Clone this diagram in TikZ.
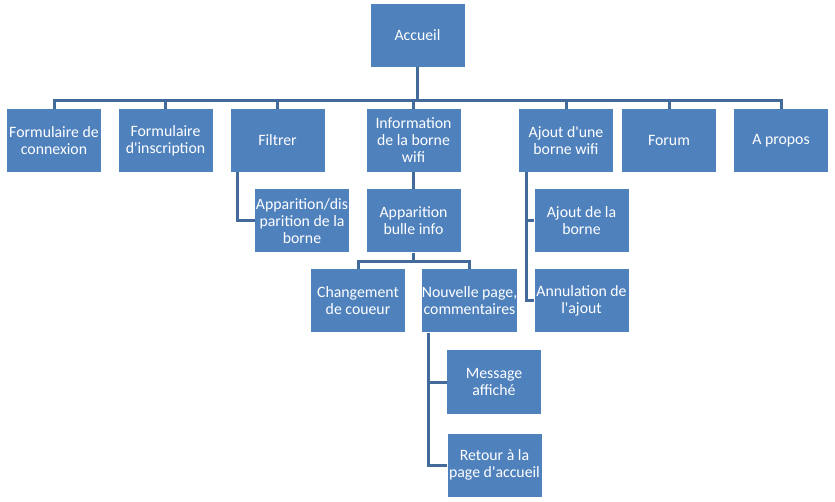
\documentclass[tikz,border=0pt]{standalone}
\usepackage{fontspec}
\setmainfont{Carlito}[Ligatures=TeXOff]
\definecolor{boxblue}{RGB}{79,129,189}
\definecolor{lineblue}{RGB}{66,106,155}
\begin{document}
\begin{tikzpicture}[x=1pt, y=-1pt,
    box/.style={fill=boxblue, draw=none, text=white, minimum width=94pt, minimum height=63pt, inner sep=0pt, align=center, font=\fontsize{15.8pt}{17pt}\selectfont},
    link/.style={draw=lineblue, line width=3pt}]
    \useasboundingbox (0, 0) rectangle (835, 502);
    \node[box] (accueil) at (417.5, 35.5) {Accueil};
    \node[box] (connexion) at (54, 140.5) {Formulaire de\\connexion};
    \node[box] (inscription) at (165.5, 140.5) {Formulaire\\d'inscription};
    \node[box] (filtrer) at (277.5, 140.5) {Filtrer};
    \node[box] (info) at (413.5, 140.5) {Information\\de la borne\\wifi};
    \node[box] (ajout) at (566, 140.5) {Ajout d'une\\borne wifi};
    \node[box] (forum) at (669, 140.5) {Forum};
    \node[box] (apropos) at (781, 140.5) {A propos};
    \node[box] (disparition) at (302, 221) {Apparition/dis\\parition de la\\borne};
    \node[box] (bulle) at (413.5, 221) {Apparition\\bulle info};
    \node[box] (ajoutborne) at (581.5, 221) {Ajout de la\\borne};
    \node[box] (annulation) at (581.5, 301) {Annulation de\\l'ajout};
    \node[box] (couleur) at (358, 301) {Changement\\de coueur};
    \node[box] (nouvelle) at (469.5, 301) {Nouvelle page,\\commentaires};
    \node[box] (message) at (494, 382) {Message\\affiché};
    \node[box] (retour) at (494.5, 465) {Retour à la\\page d'accueil};
    % first level
    \foreach \n in {connexion, inscription, filtrer, info, ajout, forum, apropos}
      \draw[link] (accueil.south) -- ++(0, 33) -| (\n.north);
    % second level
    \draw[link] ([xshift=7pt]filtrer.south west) |- (disparition.west);
    \draw[link] (info.south) -- (bulle.north);
    \draw[link] ([xshift=8pt]ajout.south west) |- (ajoutborne.west);
    \draw[link] ([xshift=8pt]ajout.south west) |- (annulation.west);
    \draw[link] (bulle.south) -- ++(0, 9) -| (couleur.north);
    \draw[link] (bulle.south) -- ++(0, 9) -| (nouvelle.north);
    \draw[link] ([xshift=7pt]nouvelle.south west) |- (message.west);
    \draw[link] ([xshift=7pt]nouvelle.south west) |- (retour.west);
  \end{tikzpicture}
\end{document}
